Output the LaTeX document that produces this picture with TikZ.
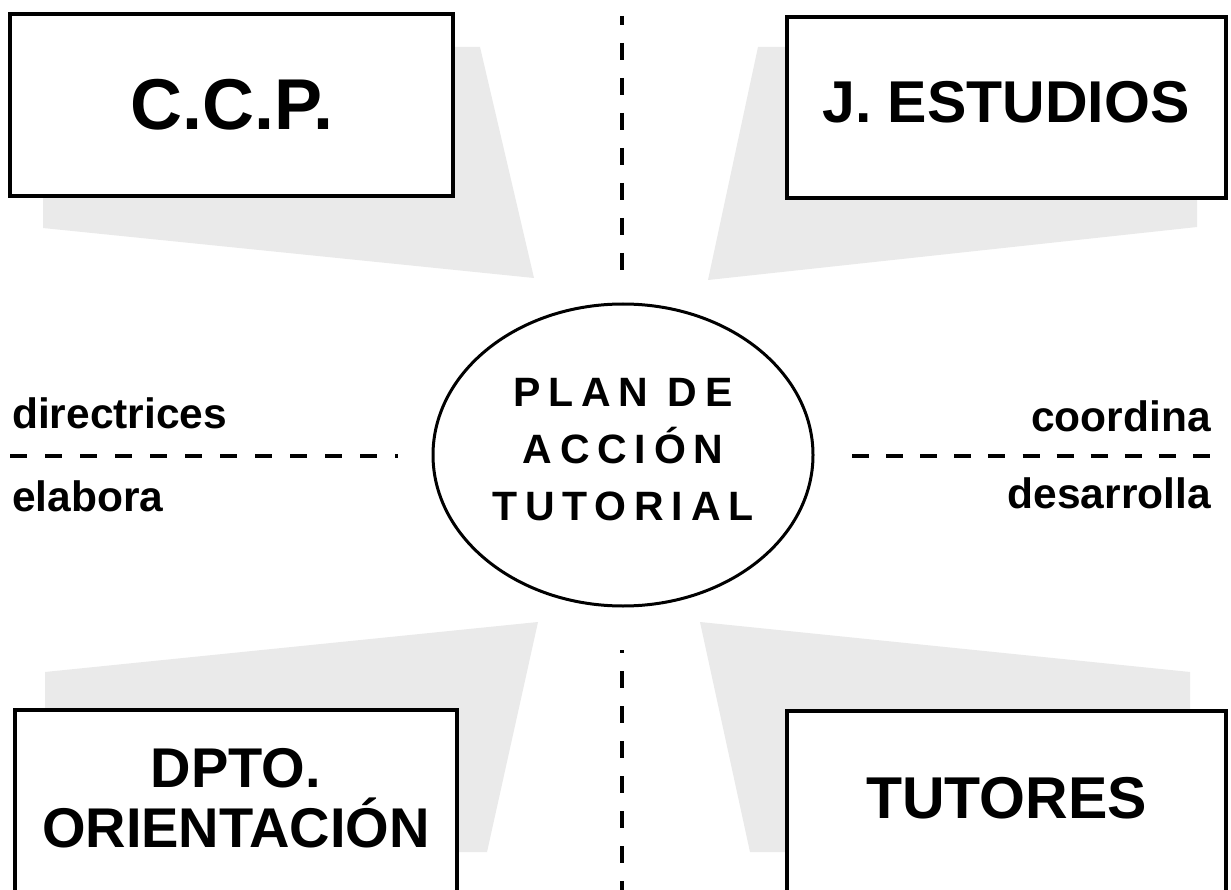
\documentclass[tikz,border=0pt]{standalone}
\usepackage{fontspec}
\setmainfont{Liberation Sans}
\usetikzlibrary{shapes.geometric}
\definecolor{shade}{RGB}{234,234,234}
\tikzset{
  shadowpoly/.style={fill=shade, draw=none},
  boxnode/.style={draw=black, line width=4pt, fill=white, rectangle, inner sep=0pt},
  boxtext/.style={font=\bfseries\fontsize{#1}{#1}\selectfont, inner sep=0pt, anchor=base},
  lbl/.style={font=\bfseries\fontsize{42.5}{42.5}\selectfont, inner sep=0pt, anchor=base west},
  lblr/.style={font=\bfseries\fontsize{42.5}{42.5}\selectfont, inner sep=0pt, anchor=base east},
  dline/.style={line width=3.5pt, dash pattern=on 17pt off 18pt},
}
\begin{document}
\begin{tikzpicture}[x=1pt,y=-1pt]
\clip (0,0) rectangle (1231,890);
\fill[white] (0,0) rectangle (1231,890);
% shaded trapezoids
\fill[shadowpoly] (43,47) -- (480,47) -- (534,278) -- (43,228) -- cycle;
\fill[shadowpoly] (758,47) -- (1197,47) -- (1197,227) -- (708,280) -- cycle;
\fill[shadowpoly] (45,672) -- (538,622) -- (487,852) -- (45,852) -- cycle;
\fill[shadowpoly] (700,622) -- (1190,672) -- (1190,852) -- (750,852) -- cycle;
% boxes
\node[boxnode, minimum width=443pt, minimum height=182pt] (ccp) at (231.5,105) {};
\node[boxtext=72] (ccptxt) at (232,130) {C.C.P.};
\node[boxnode, minimum width=439pt, minimum height=181pt] (jest) at (1006.5,107.5) {};
\node[boxtext=59] (jesttxt) at (1006,123) {J. ESTUDIOS};
\node[boxnode, minimum width=442pt, minimum height=200pt] (dpto) at (236,810) {};
\node[boxtext=56, align=center, font=\bfseries\fontsize{56}{60}\selectfont] (dptotxt) at (236,847) {DPTO.\\ORIENTACIÓN};
\node[boxnode, minimum width=439pt, minimum height=200pt] (tut) at (1006.5,811) {};
\node[boxtext=59] (tuttxt) at (1006.5,818) {TUTORES};
% central ellipse
\node[ellipse, draw=black, line width=3pt, fill=white, minimum width=380pt, minimum height=302pt, inner sep=0pt] (pat) at (623,455) {};
\node[inner sep=0pt, align=center,
      font=\bfseries\fontsize{41}{57}\selectfont\addfontfeatures{LetterSpace=19}] (pattxt) at (623,450) {PLAN DE\\ACCIÓN\\TUTORIAL};
% dashed separators
\coordinate (hlA) at (10,456);
\coordinate (hlB) at (398,456);
\coordinate (hrA) at (852,456);
\coordinate (hrB) at (1211,456);
\coordinate (vtA) at (622,16);
\coordinate (vtB) at (622,272);
\coordinate (vbA) at (622,650);
\coordinate (vbB) at (622,892);
\draw[dline] (hlA) -- (hlB);
\draw[line width=3.5pt, dash pattern=on 17pt off 17.1pt] (hrA) -- (hrB);
\draw[dline, dash phase=8pt] (vtA) -- (vtB);
\draw[dline, dash phase=14pt] (vbA) -- (vbB);
% labels
\node[lbl] (dir) at (12,428) {directrices};
\node[lbl] (ela) at (12,511) {elabora};
\node[lblr] (coo) at (1211,431) {coordina};
\node[lblr] (des) at (1211,508) {desarrolla};
\end{tikzpicture}
\end{document}
